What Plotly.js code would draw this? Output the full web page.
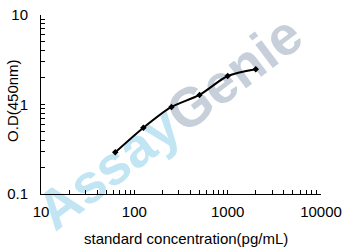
<!DOCTYPE html>
<html>
<head>
<meta charset="utf-8">
<script src="https://cdn.plot.ly/plotly-3.0.1.min.js"></script>
<style>
html,body{margin:0;padding:0;background:#fff;}
#wrap{position:relative;width:347px;height:252px;}
#wm,#chart{position:absolute;left:0;top:0;width:347px;height:252px;}
</style>
</head>
<body>
<div id="wrap"><div id="wm"></div><div id="chart"></div></div>
<script>
const concentrations = [62.5, 125, 250, 500, 1000, 2000];
const odValues = [0.292, 0.55, 0.94, 1.28, 2.08, 2.48];
const xTickVals = [10,20,30,40,50,60,70,80,90,100,200,300,400,500,600,700,800,900,1000,2000,3000,4000,5000,6000,7000,8000,9000,10000];
const xTickText = xTickVals.map(v => [10,100,1000,10000].includes(v) ? String(v) : '');
const yTickVals = [0.1,0.2,0.3,0.4,0.5,0.6,0.7,0.8,0.9,1,2,3,4,5,6,7,8,9,10];
const yTickText = yTickVals.map(v => v===0.1 ? '0.1' : v===1 ? '1' : v===10 ? '10' : '');
const xTitle = 'standard concentration(pg/mL)';
const yTitle = 'O.D(450nm)';
const wmPart1 = 'Assay';
const wmPart2 = 'Genie';

const margin = {l:41, r:26, t:15, b:58};
const font = {family:'Liberation Sans, Arial, sans-serif', size:15, color:'#000'};

Plotly.newPlot('wm', [], {
  width:347, height:252, margin:margin,
  paper_bgcolor:'#fff', plot_bgcolor:'#fff',
  xaxis:{visible:false, range:[0,1]}, yaxis:{visible:false, range:[0,1]},
  annotations:[{
    xref:'paper', yref:'paper', x:0.46, y:0.40, showarrow:false,
    textangle:-37,
    text:'<b><span style="color:#c2e5f4">'+wmPart1+'</span><span style="color:#c7d0da">'+wmPart2+'</span></b>',
    font:{family:'Liberation Sans, Arial, sans-serif', size:55}
  }]
}, {staticPlot:true, displayModeBar:false});

Plotly.newPlot('chart', [{
  x: concentrations, y: odValues, type:'scatter', mode:'lines+markers',
  line:{color:'#000', width:2, shape:'spline', smoothing:0.8},
  marker:{symbol:'diamond', size:5, color:'#000'}
}], {
  width:347, height:252, margin:margin,
  paper_bgcolor:'rgba(0,0,0,0)', plot_bgcolor:'rgba(0,0,0,0)',
  font:font, showlegend:false,
  xaxis:{type:'log', range:[1,4], tickvals:xTickVals, ticktext:xTickText,
    ticks:'inside', ticklen:4, tickwidth:1, tickcolor:'#000', ticklabelstandoff:4,
    showline:true, linecolor:'#000', linewidth:1, showgrid:false, zeroline:false,
    tickfont:font},
  yaxis:{type:'log', range:[-1,1], tickvals:yTickVals, ticktext:yTickText,
    ticks:'inside', ticklen:4, tickwidth:1, tickcolor:'#000', ticklabelstandoff:9,
    showline:true, linecolor:'#000', linewidth:1, showgrid:false, zeroline:false,
    tickfont:font},
  annotations:[
    {xref:'paper', yref:'paper', x:0.518, y:-0.251, showarrow:false, text:xTitle, font:font, xanchor:'center', yanchor:'middle'},
    {xref:'paper', yref:'paper', x:-0.1, y:0.52, showarrow:false, text:yTitle, font:font, textangle:-90, xanchor:'center', yanchor:'middle'}
  ]
}, {staticPlot:true, displayModeBar:false});
</script>
</body>
</html>
